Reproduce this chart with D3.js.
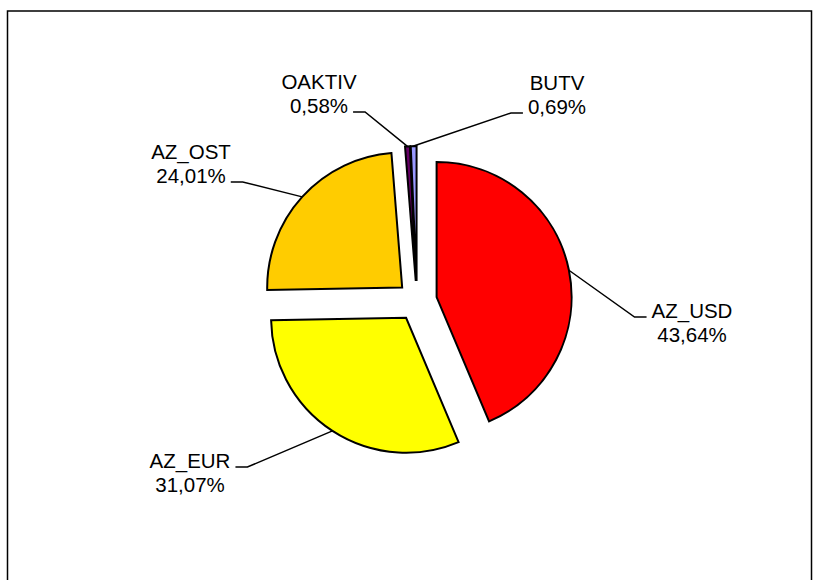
<!DOCTYPE html>
<html>
<head>
<meta charset="utf-8">
<script src="https://cdn.jsdelivr.net/npm/d3@7"></script>
<style>
  html, body { margin: 0; padding: 0; background: #fff; }
  svg { display: block; }
  .lbl { font-family: "Liberation Sans", Arial, sans-serif; font-size: 20.5px; fill: #000; }
</style>
</head>
<body>
<div id="chart"></div>
<script>
// ── Data ───────────────────────────────────────────────────────────────────
const categories = ["AZ_USD", "AZ_EUR", "AZ_OST", "OAKTIV", "BUTV"];
const shares     = [43.64, 31.07, 24.01, 0.58, 0.69];
const shareText  = ["43,64%", "31,07%", "24,01%", "0,58%", "0,69%"];
const colors     = ["#ff0000", "#ffff00", "#ffcc00", "#660066", "#9999ff"];

// ── Layout ─────────────────────────────────────────────────────────────────
const W = 813, H = 580;
const CX = 417, CY = 301;
const R = 135, EXPLODE = 20;
// label centre x / first baseline
const labelAt = [[692, 318], [190, 468], [191, 159], [319, 89], [557, 90]];
const LINE_H = 24;

const svg = d3.select("#chart").append("svg")
  .attr("width", W).attr("height", H);

// chart frame
svg.append("rect")
  .attr("x", 7.5).attr("y", 11)
  .attr("width", 804).attr("height", 600)
  .attr("fill", "none").attr("stroke", "#000").attr("stroke-width", 1.5);

const pie = d3.pie().sort(null).value(d => d)(shares);
const arc = d3.arc().innerRadius(0).outerRadius(R);

const g = svg.append("g").attr("transform", `translate(${CX},${CY})`);

const mid = d => (d.startAngle + d.endAngle) / 2;
const off = d => [Math.sin(mid(d)) * EXPLODE, -Math.cos(mid(d)) * EXPLODE];

// slices
g.selectAll("path.slice")
  .data(pie)
  .enter()
  .append("path")
  .attr("class", "slice")
  .attr("transform", d => `translate(${off(d)[0]},${off(d)[1]})`)
  .attr("d", arc)
  .attr("fill", (d, i) => colors[i])
  .attr("stroke", "#000")
  .attr("stroke-width", 2)
  .attr("stroke-linejoin", "miter");

// labels + leaders
pie.forEach((d, i) => {
  const a = mid(d);
  const px = CX + Math.sin(a) * (R + EXPLODE);
  const py = CY - Math.cos(a) * (R + EXPLODE);
  const [lx, ly] = labelAt[i];

  const t1 = svg.append("text").attr("class", "lbl")
    .attr("x", lx).attr("y", ly).attr("text-anchor", "middle").text(categories[i]);
  const t2 = svg.append("text").attr("class", "lbl")
    .attr("x", lx).attr("y", ly + LINE_H).attr("text-anchor", "middle").text(shareText[i]);

  // attach to first line if label sits below the point, else second line
  const below = ly > py;
  const tb = (below ? t1 : t2).node().getBBox();
  const yy = (below ? ly : ly + LINE_H) - 1;
  const right = lx > px;
  const ex = right ? tb.x - 5 : tb.x + tb.width + 5;
  const kx = right ? ex - 12 : ex + 12;

  svg.append("polyline")
    .attr("points", `${px},${py} ${kx},${yy} ${ex},${yy}`)
    .attr("fill", "none")
    .attr("stroke", "#000")
    .attr("stroke-width", 1.5);
});
</script>
</body>
</html>
